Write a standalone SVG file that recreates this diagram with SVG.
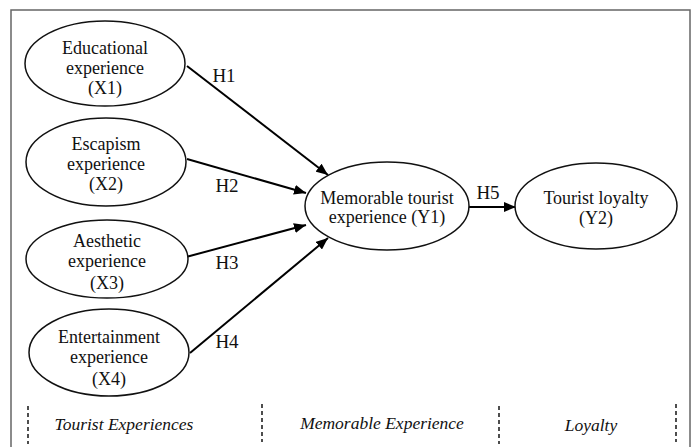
<svg xmlns="http://www.w3.org/2000/svg" width="696" height="447" viewBox="0 0 696 447">
<style>
.node ellipse{fill:#fff;stroke:#111;stroke-width:1.5}
text{font-family:"Liberation Serif","Times New Roman",serif;font-size:18px;fill:#111;text-anchor:middle}
.it{font-style:italic;font-size:17.5px}
.lab{font-size:19px}
.edge{stroke:#000;stroke-width:2;fill:none;marker-end:url(#ah)}
.dash{stroke:#222;stroke-width:1.6;stroke-dasharray:4 3}
</style>
<defs>
<marker id="ah" viewBox="0 0 12 10" refX="12" refY="5" markerWidth="12" markerHeight="10" markerUnits="userSpaceOnUse" orient="auto">
<path d="M0,0 L12,5 L0,10 z" fill="#000"/>
</marker>
</defs>
<rect x="0" y="0" width="696" height="447" fill="#fff"/>
<rect x="11" y="10" width="679" height="450" fill="none" stroke="#666" stroke-width="1.5"/>
<g id="connectors">
<line class="edge" x1="187" y1="66" x2="328" y2="175"/>
<line class="edge" x1="187" y1="159" x2="306" y2="193"/>
<line class="edge" x1="186" y1="257" x2="306" y2="225"/>
<line class="edge" x1="190" y1="353" x2="328" y2="238"/>
<line class="edge" x1="469" y1="207" x2="516" y2="207"/>
<text class="lab" x="224" y="82">H1</text>
<text class="lab" x="227" y="192">H2</text>
<text class="lab" x="227" y="269">H3</text>
<text class="lab" x="227" y="348">H4</text>
<text class="lab" x="488" y="199">H5</text>
</g>
<g id="x1" class="node">
<ellipse cx="105" cy="63.5" rx="80" ry="42.5"/>
<text x="105" y="54">Educational</text>
<text x="105" y="74">experience</text>
<text x="105" y="94">(X1)</text>
</g>
<g id="x2" class="node">
<ellipse cx="106" cy="162" rx="80" ry="44"/>
<text x="106" y="150">Escapism</text>
<text x="106" y="170">experience</text>
<text x="106" y="190">(X2)</text>
</g>
<g id="x3" class="node">
<ellipse cx="107" cy="259" rx="81" ry="39"/>
<text x="107" y="247">Aesthetic</text>
<text x="107" y="267">experience</text>
<text x="107" y="289">(X3)</text>
</g>
<g id="x4" class="node">
<ellipse cx="109" cy="352.5" rx="80" ry="43.5"/>
<text x="109" y="343">Entertainment</text>
<text x="109" y="363">experience</text>
<text x="109" y="385">(X4)</text>
</g>
<g id="y1" class="node">
<ellipse cx="387" cy="206" rx="82" ry="44"/>
<text x="387" y="204">Memorable tourist</text>
<text x="387" y="223">experience (Y1)</text>
</g>
<g id="y2" class="node">
<ellipse cx="596" cy="206" rx="81" ry="43"/>
<text x="596" y="204">Tourist loyalty</text>
<text x="596" y="224">(Y2)</text>
</g>
<g id="sections">
<line class="dash" x1="28" y1="406" x2="28" y2="444"/>
<line class="dash" x1="262" y1="404" x2="262" y2="442"/>
<line class="dash" x1="499" y1="406" x2="499" y2="444"/>
<line class="dash" x1="676" y1="404" x2="676" y2="442"/>
<text class="it" x="124" y="430">Tourist Experiences</text>
<text class="it" x="382" y="429">Memorable Experience</text>
<text class="it" x="591" y="431">Loyalty</text>
</g>
</svg>
